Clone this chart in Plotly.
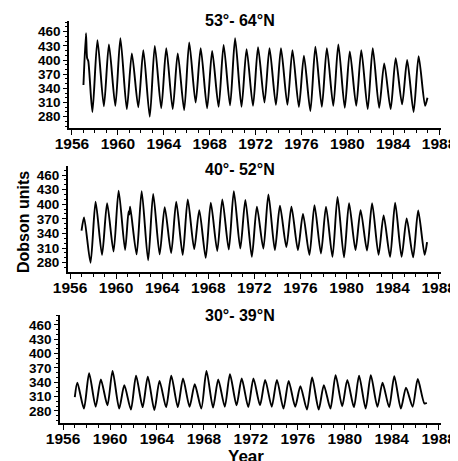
import plotly.graph_objects as go

# ---------------- data ----------------
YEARS = list(range(1957, 1987))
X_TICKS = [1956, 1960, 1964, 1968, 1972, 1976, 1980, 1984, 1988]
Y_TICKS = [280, 310, 340, 370, 400, 430, 460]
TITLES = ["53°- 64°N", "40°- 52°N", "30°- 39°N"]

# panel 1: 53-64N
P1_START, P1_END = 347, 320
P1_PEAK = [457, 442, 433, 446, 414, 421, 430, 425, 414, 437, 425, 419, 432, 446, 423,
           427, 425, 425, 421, 409, 428, 425, 433, 418, 421, 425, 393, 404, 400, 408]
P1_TROUGH = [290, 302, 303, 296, 300, 280, 298, 296, 294, 310, 298, 301, 304, 301, 303,
             310, 305, 305, 301, 292, 301, 303, 299, 303, 296, 299, 296, 306, 290, 303]
P1_EXTRA_T = [1957.32, 1957.42]
P1_EXTRA_V = [404, 398]

# panel 2: 40-52N
P2_START, P2_END = 346, 322
P2_PEAK = [373, 405, 402, 428, 395, 427, 421, 394, 405, 410, 388, 403, 410, 427, 409,
           395, 420, 397, 395, 380, 398, 395, 415, 402, 388, 402, 377, 403, 371, 387]
P2_TROUGH = [280, 296, 303, 306, 297, 285, 297, 300, 296, 308, 290, 304, 307, 309, 292,
             309, 306, 312, 306, 296, 299, 292, 291, 306, 305, 296, 292, 292, 291, 296]
P2_EXTRA_T = [1961.08, 1961.15]
P2_EXTRA_V = [385, 379]

# panel 3: 30-39N
P3_START, P3_END = 309, 297
P3_PEAK = [339, 359, 346, 364, 334, 354, 352, 343, 354, 348, 336, 364, 346, 357, 348,
           348, 345, 345, 343, 332, 350, 334, 355, 345, 354, 355, 339, 353, 329, 347]
P3_TROUGH = [285, 289, 292, 285, 283, 288, 282, 288, 288, 289, 285, 287, 289, 292, 288,
             292, 289, 285, 289, 283, 283, 285, 290, 288, 285, 289, 288, 285, 289, 296]
P3_EXTRA_T = []
P3_EXTRA_V = []

PEAK_PHASE, TROUGH_PHASE = 0.22, 0.78


def build(start, end, peaks, troughs, ext_t, ext_v):
    pts = [(YEARS[0] + 0.0, start), (YEARS[-1] + 0.99, end)]
    for yr, p, t in zip(YEARS, peaks, troughs):
        pts.append((yr + PEAK_PHASE, p))
        pts.append((yr + TROUGH_PHASE, t))
    pts += list(zip(ext_t, ext_v))
    pts.sort()
    return [a for a, _ in pts], [b for _, b in pts]


series = [
    build(P1_START, P1_END, P1_PEAK, P1_TROUGH, P1_EXTRA_T, P1_EXTRA_V),
    build(P2_START, P2_END, P2_PEAK, P2_TROUGH, P2_EXTRA_T, P2_EXTRA_V),
    build(P3_START, P3_END, P3_PEAK, P3_TROUGH, P3_EXTRA_T, P3_EXTRA_V),
]

# ---------------- layout ----------------
W, H = 458, 461
OFF = 8  # page body margin in the browser
FONT = "Liberation Sans, Arial, Helvetica, sans-serif"


def px(x):
    return (x - OFF) / W


def py(y):
    return 1 - (y - OFF) / H


# (left, right, top, bottom) in pixels ; y-range ; x-range
panels = [
    dict(l=69, r=441, t=20.7, b=127.7, yr=[256.7, 483.3], xr=[1955.74, 1988.17], title_y=21),
    dict(l=67.7, r=441, t=166, b=271.7, yr=[261.5, 478.5], xr=[1955.8, 1988.2], title_y=169),
    dict(l=60, r=441, t=315, b=422.7, yr=[255.5, 480.9], xr=[1955.74, 1988.2], title_y=315),
]

fig = go.Figure()
annotations = []
for i, (pn, (xs, ys)) in enumerate(zip(panels, series)):
    k = "" if i == 0 else str(i + 1)
    fig.add_trace(go.Scatter(
        x=xs, y=ys, mode="lines", xaxis="x" + k, yaxis="y" + k,
        line=dict(color="black", width=1.9, shape="spline", smoothing=0.7),
        showlegend=False, hoverinfo="skip"))
    fig.layout["xaxis" + k] = dict(
        domain=[px(pn["l"]), px(pn["r"])], anchor="y" + k, range=pn["xr"],
        automargin=False, ticklabelstandoff=-4,
        tickvals=X_TICKS, tickformat="d", ticks="outside", ticklen=5, tickwidth=1.2,
        tickcolor="black", showline=True, linecolor="black", linewidth=2,
        showgrid=False, zeroline=False,
        minor=dict(dtick=1, tick0=1956, ticks="outside", ticklen=3, tickcolor="black", tickwidth=1),
        tickfont=dict(family=FONT, size=15.5, color="black", weight="bold"))
    fig.layout["yaxis" + k] = dict(
        domain=[py(pn["b"]), py(pn["t"])], anchor="x" + k, range=pn["yr"],
        automargin=False,
        tickvals=Y_TICKS, ticks="outside", ticklen=4, tickwidth=1.2, tickcolor="black",
        showline=True, linecolor="black", linewidth=1.6, showgrid=False, zeroline=False,
        minor=dict(dtick=10, tick0=280, ticks="outside", ticklen=2, tickcolor="black", tickwidth=1),
        tickfont=dict(family=FONT, size=13.5, color="black", weight="bold"))
    annotations.append(dict(
        text=TITLES[i], x=px(240), y=py(pn["title_y"]), xref="paper", yref="paper",
        xanchor="center", yanchor="middle", showarrow=False,
        font=dict(family=FONT, size=16, color="black", weight="bold")))

annotations.append(dict(
    text="Dobson units", x=px(23), y=py(222), xref="paper", yref="paper",
    xanchor="center", yanchor="middle", textangle=-90, showarrow=False,
    font=dict(family=FONT, size=16, color="black", weight="bold")))
annotations.append(dict(
    text="Year", x=px(246), y=py(456), xref="paper", yref="paper",
    xanchor="center", yanchor="middle", showarrow=False,
    font=dict(family=FONT, size=17, color="black", weight="bold")))

fig.update_layout(
    template="none",
    width=W, height=H, margin=dict(l=0, r=0, t=0, b=0, pad=0, autoexpand=False),
    paper_bgcolor="white", plot_bgcolor="white",
    annotations=annotations)

fig.write_html("out.html")
